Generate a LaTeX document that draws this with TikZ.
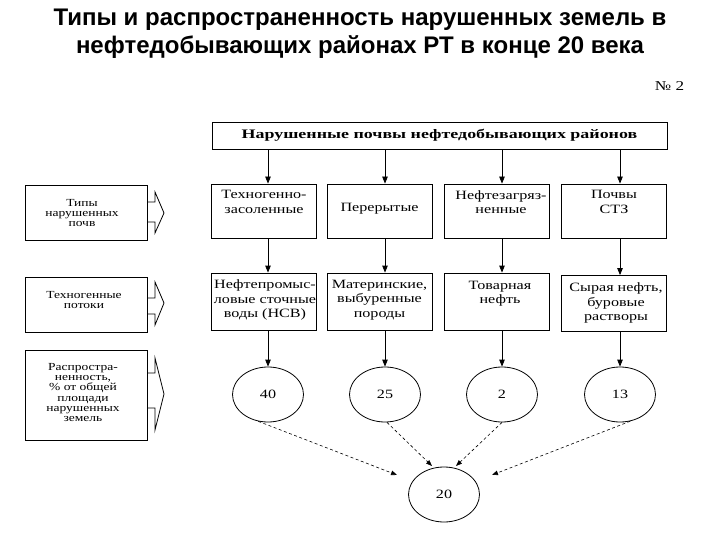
\documentclass[tikz,border=0pt]{standalone}
\usepackage{fontspec}
\setmainfont{Liberation Serif}[FakeStretch=1.27]
\newfontfamily\topfont{Liberation Serif}[FakeStretch=1.38]
\newfontfamily\sidefont{Liberation Serif}[FakeStretch=1.25]
\newfontfamily\titlefont{Liberation Sans}
\usetikzlibrary{arrows.meta,calc,shapes.geometric}
\begin{document}
\begin{tikzpicture}[x=1pt,y=-1pt,line width=0.8pt,
  rowbox/.style={draw,minimum width=105pt,inner sep=0pt},
  sidebox/.style={draw,minimum width=122pt,inner sep=0pt},
  txt/.style={align=center,inner sep=0pt,font=\fontsize{12.7}{14.5}\selectfont},
  sidetxt/.style={align=center,inner sep=0pt,font=\sidefont\fontsize{10.8}{10.3}\selectfont},
  oval/.style={draw,ellipse,minimum width=71pt,minimum height=55pt,inner sep=0pt,font=\fontsize{12.7}{14}\selectfont},
  arr/.style={-{Triangle[length=7pt,width=5.5pt]}},
  darr/.style={dashed,line width=0.6pt,dash pattern=on 3pt off 2.5pt,-{Triangle[length=6pt,width=4.5pt]}}]
\useasboundingbox (0,0) rectangle (720,540);
% title
\node[align=center,font=\titlefont\bfseries\fontsize{24}{28}\selectfont] (title) at (360,34)
  {Типы и распространенность нарушенных земель в\\нефтедобывающих районах РТ в конце 20 века};
\node[font=\fontsize{13.5}{14}\selectfont] (num) at (669.5,86) {№ 2};
% top box
\node[draw,minimum width=455pt,minimum height=27pt,inner sep=0pt,font=\topfont\fontsize{13}{16}\selectfont\bfseries] (top) at (439.5,135.5)
  {Нарушенные почвы нефтедобывающих районов};
% row 1
\node[rowbox,minimum height=54pt] (b1) at (264,211) {};
\node[rowbox,minimum height=54pt] (b2) at (379.5,211) {};
\node[rowbox,minimum height=54pt] (b3) at (496.5,211) {};
\node[rowbox,minimum height=54pt] (b4) at (614,211) {};
\node[txt] (tb1) at (264,202) {Техногенно-\\засоленные};
\node[txt] (tb2) at (379.5,209) {Перерытые};
\node[txt] (tb3) at (501,202) {Нефтезагряз-\\ненные};
\node[txt] (tb4) at (614,202) {Почвы\\СТЗ};
% row 2
\node[rowbox,minimum height=57pt] (c1) at (264,301.5) {};
\node[rowbox,minimum height=57pt] (c2) at (379.5,301.5) {};
\node[rowbox,minimum height=57pt] (c3) at (496.5,301.5) {};
\node[rowbox,minimum height=56pt] (c4) at (614,303.5) {};
\node[txt] (tc1) at (265,300) {Нефтепромыс-\\ловые сточные\\воды (НСВ)};
\node[txt] (tc2) at (379.5,300) {Материнские,\\выбуренные\\породы};
\node[txt] (tc3) at (500,293.5) {Товарная\\нефть};
\node[txt] (tc4) at (616,303) {Сырая нефть,\\буровые\\растворы};
% ellipses
\node[oval] (e1) at (268,394.5) {40};
\node[oval] (e2) at (385,394.5) {25};
\node[oval] (e3) at (502,394.5) {2};
\node[oval] (e4) at (620,394.5) {13};
\node[oval] (e5) at (444,494.5) {20};
% solid arrows
\foreach \i/\b/\c in {1/b1/c1,2/b2/c2,3/b3/c3,4/b4/c4}{
  \draw[arr] (top.south -| e\i) -- (\b.north -| e\i);
  \draw[arr] (\b.south -| e\i) -- (\c.north -| e\i);
  \draw[arr] (\c.south -| e\i) -- (e\i.north);
}
% dashed arrows
\coordinate (d1) at ($(e5)+(-47,-19.5)$);
\coordinate (d2) at ($(e5)+(-12,-28.5)$);
\coordinate (d3) at ($(e5)+(12,-28.5)$);
\coordinate (d4) at ($(e5)+(48,-19.5)$);
\draw[darr] (e1.-110) -- (d1);
\draw[darr] (e2.-86) -- (d2);
\draw[darr] (e3.-90) -- (d3);
\draw[darr] (e4.-69) -- (d4);
% side boxes
\node[sidebox,minimum height=55pt] (s1) at (86,212.5) {};
\node[sidebox,minimum height=55pt] (s2) at (86,304.5) {};
\node[sidebox,minimum height=90pt] (s3) at (86,395) {};
\node[sidetxt] (ts1) at (82,213) {Типы\\нарушенных\\почв};
\node[sidetxt] (ts2) at (84,300) {Техногенные\\потоки};
\node[sidetxt] (ts3) at (83,392.5) {Распростра-\\ненность,\\\%\ от общей\\площади\\нарушенных\\земель};
% block arrows
\draw (147,202) -- (155,202) -- (155,192) -- (164,213) -- (155,233) -- (155,222) -- (147,222);
\draw (147,298) -- (155,298) -- (155,282) -- (164,303) -- (155,325) -- (155,314) -- (147,314);
\draw (147,373) -- (155,373) -- (155,358) -- (164,394) -- (155,430) -- (155,408) -- (147,408);
\end{tikzpicture}
\end{document}
